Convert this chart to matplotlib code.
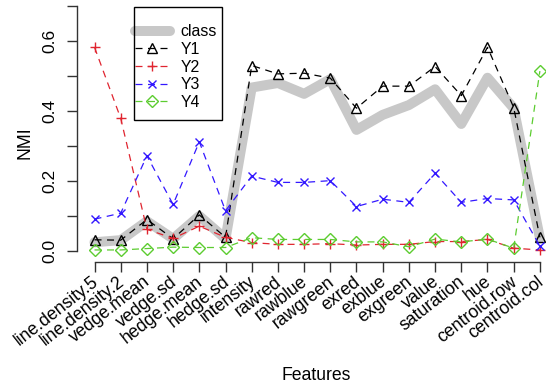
import matplotlib
matplotlib.use("Agg")
import matplotlib.pyplot as plt
import matplotlib.transforms as mtransforms
from matplotlib.patches import Rectangle
import numpy as np

# Data
features = ["line.density.5", "line.density.2", "vedge.mean", "vedge.sd", "hedge.mean",
            "hedge.sd", "intensity", "rawred", "rawblue", "rawgreen", "exred", "exblue",
            "exgreen", "value", "saturation", "hue", "centroid.row", "centroid.col"]
nmi_class = [0.025, 0.031, 0.085, 0.035, 0.100, 0.035, 0.467, 0.480, 0.449, 0.491,
             0.346, 0.389, 0.417, 0.462, 0.363, 0.495, 0.408, 0.037]
nmi_y1 = [0.032, 0.031, 0.090, 0.035, 0.103, 0.039, 0.530, 0.506, 0.508, 0.494,
          0.408, 0.471, 0.471, 0.527, 0.444, 0.582, 0.410, 0.039]
nmi_y2 = [0.582, 0.379, 0.062, 0.036, 0.071, 0.039, 0.024, 0.019, 0.019, 0.021,
          0.017, 0.019, 0.019, 0.027, 0.027, 0.033, 0.008, 0.003]
nmi_y3 = [0.091, 0.108, 0.272, 0.133, 0.312, 0.115, 0.214, 0.196, 0.196, 0.201,
          0.127, 0.148, 0.139, 0.222, 0.139, 0.150, 0.146, 0.014]
nmi_y4 = [0.003, 0.003, 0.007, 0.011, 0.010, 0.010, 0.038, 0.033, 0.033, 0.033,
          0.026, 0.026, 0.012, 0.034, 0.026, 0.034, 0.008, 0.514]

plt.rcParams["font.family"] = ["Liberation Sans", "DejaVu Sans"]

W, H = 546, 385
fig = plt.figure(figsize=(W / 100, H / 100), dpi=100)
# plot region in pixels (R style: extends past the right edge)
left, right, bottom, top = 76.7, 557.7, 261.5, 0
ax = fig.add_axes([left / W, (H - bottom) / H, (right - left) / W, (bottom - top) / H])

x = np.arange(1, len(features) + 1)
dash = (5.6, 4.4)

ax.plot(x, nmi_class, color="#c8c8c8", lw=7.2, solid_capstyle="round",
        solid_joinstyle="round", label="class")
ax.plot(x, nmi_y1, color="black", lw=0.9, ls="--", dashes=dash, marker="^",
        ms=7.5, mfc="none", mec="black", mew=1, label="Y1")
ax.plot(x, nmi_y2, color="#e02530", lw=0.9, ls="--", dashes=dash, marker="+",
        ms=7.5, mew=1, label="Y2")
ax.plot(x, nmi_y3, color="#3318ff", lw=0.9, ls="--", dashes=dash, marker="x",
        ms=6, mew=1, label="Y3")
ax.plot(x, nmi_y4, color="#5ccc30", lw=0.9, ls="--", dashes=dash, marker="D",
        ms=6, mfc="none", mew=1, label="Y4")

ax.set_xlim(0.32, 18.68)
ax.set_ylim(-10.5 / 350, 251 / 350)

# R-style axes
ax.spines["top"].set_visible(False)
ax.spines["right"].set_visible(False)
ax.spines["left"].set_bounds(0, 0.7)
ax.spines["bottom"].set_bounds(1, 18)
for s in ["left", "bottom"]:
    ax.spines[s].set_color("#333333")
    ax.spines[s].set_linewidth(1)

ax.set_yticks(np.arange(0, 0.71, 0.1))
ax.set_yticklabels(["0.0", "", "0.2", "", "0.4", "", "0.6", ""], rotation=90,
                   va="center", fontsize=12.5)
ax.set_xticks(x)
ax.set_xticklabels(features, rotation=38, ha="right", va="center",
                   rotation_mode="anchor", fontsize=12.7)
ax.tick_params(length=7.2, width=1, color="#333333")
ax.tick_params(axis="y", pad=7)
ax.tick_params(axis="x", pad=6)
shift = mtransforms.ScaledTranslation(0.018, 0, fig.dpi_scale_trans)
for lab in ax.get_xticklabels():
    lab.set_transform(lab.get_transform() + shift)

fig.text(316 / W, 1 - 375 / H, "Features", ha="center", va="center", fontsize=12.7)
fig.text(25 / W, 1 - 142.5 / H, "NMI", ha="center", va="center", rotation=90,
         fontsize=12.7)

leg = ax.legend(loc="upper left", bbox_to_anchor=(135 / W, 1 - 24.5 / H),
                bbox_transform=fig.transFigure, fontsize=11.4, handlelength=2.2,
                handletextpad=0.68, labelspacing=0.16, borderpad=0,
                borderaxespad=0, frameon=False, numpoints=1)
fig.patches.append(Rectangle((134 / W, 1 - 120 / H), 88 / W, 113.3 / H,
                             transform=fig.transFigure, fill=False,
                             edgecolor="black", lw=1))

plt.savefig("out.png", dpi=100)
plt.close()
